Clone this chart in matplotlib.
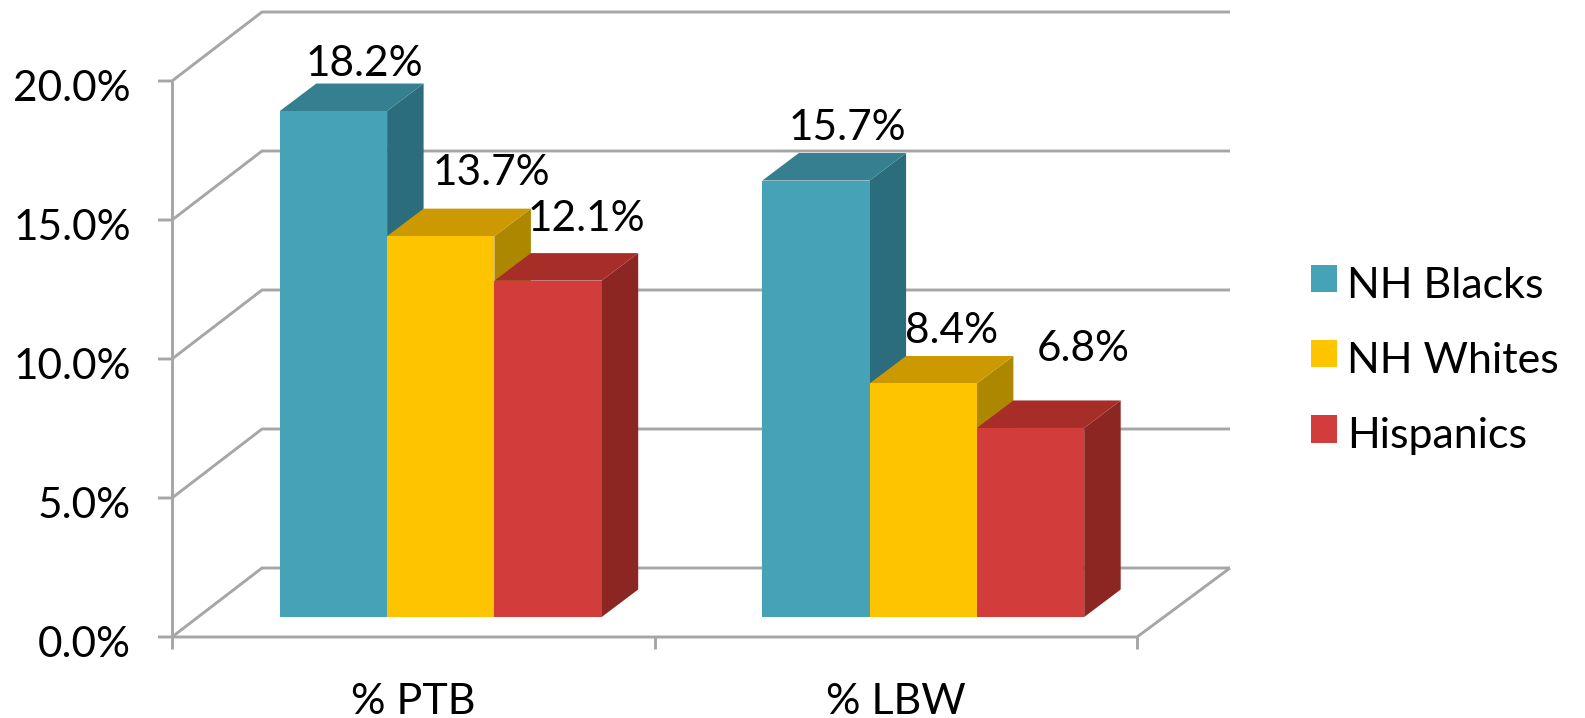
import matplotlib
matplotlib.use('Agg')
from matplotlib import pyplot as plt
from matplotlib.patches import Patch

plt.rcParams['font.family'] = ['Lato', 'DejaVu Sans']

categories = ['% PTB', '% LBW']
series_names = ['NH Blacks', 'NH Whites', 'Hispanics']
ptb_values = [18.2, 13.7, 12.1]
lbw_values = [15.7, 8.4, 6.8]
y_ticks = [0, 5, 10, 15, 20]
y_tick_labels = ['0.0%', '5.0%', '10.0%', '15.0%', '20.0%']

# front, top, side
colors = [('#46A3B7', '#357F90', '#2B6D7C'),
          ('#FFC400', '#CC9900', '#AE8700'),
          ('#D23D3B', '#A62D28', '#8C2622')]
grid_color = '#A6A6A6'

W, H = 1585, 718
X_LEFT, X_UNIT = 172, 482.5   # pixel of the left wall, pixels per category
Y_ZERO, Y_UNIT = 637, 27.8    # pixel of 0 %, pixels per percent

fig = plt.figure(figsize=(W / 100, H / 100), dpi=100)
ax = fig.add_axes([0, 0, 1, 1])
ax.set_xlim(-X_LEFT / X_UNIT - 0.5, (W - X_LEFT) / X_UNIT - 0.5)
ax.set_ylim((Y_ZERO - H) / Y_UNIT, Y_ZERO / Y_UNIT)
ax.axis('off')

# depth of the box and of the bars, in data units
wall_dx, wall_dy = 90 / X_UNIT, 69 / Y_UNIT
wall_dx_right = 93 / X_UNIT
bar_dx, bar_dy = 36.5 / X_UNIT, 27.5 / Y_UNIT
bar_w = 107.3 / X_UNIT
bar_shift = 27.5 / X_UNIT
bar_lift = 20 / Y_UNIT

line = dict(color=grid_color, lw=2.1, solid_capstyle='butt', zorder=1)

# walls and gridlines
x_start, x_end = -0.5, 1.5
for v in y_ticks:
    ax.plot([x_start - 14 / X_UNIT, x_start, x_start + wall_dx, x_end + wall_dx_right],
            [v, v, v + wall_dy, v + wall_dy], **line)
ax.plot([x_start, x_start], [0, y_ticks[-1]], **line)
ax.plot([x_start, x_end, x_end + wall_dx_right], [0, 0, wall_dy], **line)
for x in [-0.5, 0.5, 1.5]:
    ax.plot([x, x], [0, -12 / Y_UNIT], **line)

# the bars, back faces first so that each series overlaps the one before it
for g, vals in enumerate([ptb_values, lbw_values]):
    for s, v in enumerate(vals):
        x0 = g + bar_shift + (s - 1.5) * bar_w
        x1 = x0 + bar_w
        y0 = bar_lift
        y1 = bar_lift + v
        front, top, side = colors[s]
        ax.fill([x1, x1 + bar_dx, x1 + bar_dx, x1],
                [y0, y0 + bar_dy, y1 + bar_dy, y1], color=side, lw=0, zorder=2)
        ax.fill([x0, x1, x1 + bar_dx, x0 + bar_dx],
                [y1, y1, y1 + bar_dy, y1 + bar_dy], color=top, lw=0, zorder=2)
        ax.fill([x0, x1, x1, x0], [y0, y0, y1, y1], color=front, lw=0, zorder=2)

# value labels were moved by hand in the original, so they sit at pixel spots
label_px = [[(364, 64), (491, 173), (586, 219)],
            [(847, 128), (952, 331), (1083, 349)]]
for vals, spots in zip([ptb_values, lbw_values], label_px):
    for v, (px, py) in zip(vals, spots):
        ax.text(px, H - py, '%.1f%%' % v, transform=None, fontsize=30.5,
                ha='center', va='center', color='black', zorder=3)

for v, lab in zip(y_ticks, y_tick_labels):
    ax.text(x_start - 41 / X_UNIT, v - 8 / Y_UNIT, lab, fontsize=30.5,
            ha='right', va='center', color='black')

for g, lab in enumerate(categories):
    ax.text(g, -65 / Y_UNIT, lab, fontsize=31, ha='center', va='center', color='black')

handles = [Patch(color=colors[i][0], lw=0, label=series_names[i]) for i in range(3)]
leg = ax.legend(handles=handles, loc='center left', bbox_to_anchor=(1311 / W, 1 - 361 / H),
                frameon=False, fontsize=31, handlelength=0.6, handleheight=0.6,
                handletextpad=0.23, labelspacing=0.87, borderpad=0, borderaxespad=0)
# swatches sit a little above the middle of the text
for p in leg.get_patches():
    p.set_y(p.get_y() + 3)

fig.savefig('out.png', dpi=100)
